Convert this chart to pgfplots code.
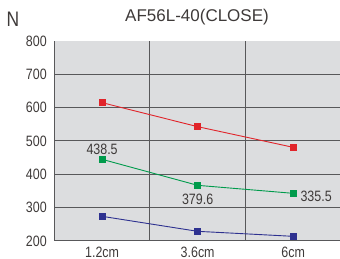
\documentclass[border=0pt]{standalone}
\usepackage{fontspec}
\setmainfont{Liberation Sans}[FakeStretch=0.83]
\newfontfamily\titlefont{Liberation Sans}
\usepackage{pgfplots}
\pgfplotsset{compat=1.18}
\definecolor{bg}{HTML}{DCDDDF}
\definecolor{gridc}{HTML}{58585A}
\definecolor{txt}{HTML}{3E3A39}
\definecolor{cred}{HTML}{E1242A}
\definecolor{cgreen}{HTML}{009B4C}
\definecolor{cblue}{HTML}{2E3190}
\begin{document}
\begin{tikzpicture}
\useasboundingbox (0,0) rectangle (340pt,259pt);
\begin{axis}[at={(54.3pt,18pt)}, anchor=south west, scale only axis,
  width=286.7pt, height=200pt,
  xmin=-0.5, xmax=2.5, ymin=200, ymax=800,
  axis background/.style={fill=bg},
  axis x line*=bottom, axis y line*=left,
  axis line style={gridc, line width=1pt, -},
  xtick={0,1,2}, xticklabels={1.2cm,3.6cm,6cm},
  ytick={200,300,...,800},
  major tick length=0pt,
  extra x ticks={0.5,1.5}, extra x tick labels={},
  extra x tick style={grid=major, major grid style={gridc, line width=1pt}},
  extra y ticks={300,400,...,700}, extra y tick labels={},
  extra y tick style={grid=major, major grid style={gridc, line width=1pt}},
  tick label style={font=\fontsize{15}{15}\selectfont, text=txt},
  yticklabel style={xshift=-4pt},
  xticklabel style={yshift=-2pt},
  /pgf/number format/assume math mode=true,
  clip=false,
]
\addplot[cred, line width=0.9pt, mark=square*, mark size=3pt] coordinates {(0,615)(1,543)(2,481)};
\addplot[cgreen, line width=0.9pt, mark=square*, mark size=3pt] coordinates {(0,445)(1,367)(2,343)};
\addplot[cblue, line width=0.9pt, mark=square*, mark size=3pt] coordinates {(0,274)(1,229)(2,214)};
\node[font=\fontsize{15}{15}\selectfont, text=txt] at (axis cs:0,476) {438.5};
\node[font=\fontsize{15}{15}\selectfont, text=txt] at (axis cs:1,325) {379.6};
\node[font=\fontsize{15}{15}\selectfont, text=txt, anchor=west] at (axis cs:2.04,333) {335.5};
\end{axis}
\node[font=\titlefont\fontsize{17}{17}\selectfont, text=txt] at (197pt,242pt) {AF56L-40(CLOSE)};
\node[font=\fontsize{21}{21}\selectfont, text=txt] at (13pt,240pt) {N};
\end{tikzpicture}
\end{document}
